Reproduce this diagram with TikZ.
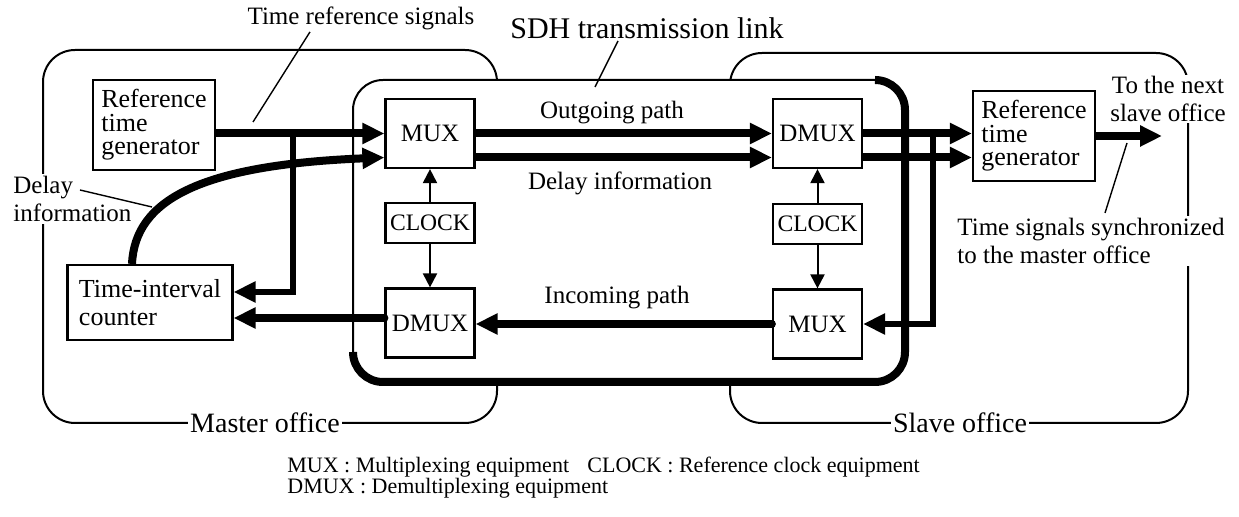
\documentclass[tikz,border=0pt]{standalone}
\usepackage{fontspec}
\setmainfont{Liberation Serif}
\usetikzlibrary{arrows.meta,calc}

\tikzset{
  office/.style={line width=1pt, rounded corners=16pt},
  box/.style={draw, line width=1.1pt, inner sep=0pt, align=left, fill=white},
  refbox/.style={box, minimum width=61pt, minimum height=45pt, font=\fontsize{13}{11.7}\selectfont},
  eqbox/.style={box, minimum width=44.5pt, minimum height=34.5pt, font=\fontsize{12.5}{12.5}\selectfont},
  clkbox/.style={box, minimum width=44.5pt, minimum height=20pt, font=\fontsize{11.8}{11.8}\selectfont},
  lbl/.style={font=\fontsize{12.5}{14}\selectfont, inner sep=1pt},
  officelbl/.style={font=\fontsize{14}{14}\selectfont, fill=white, inner sep=1pt},
  legend/.style={font=\fontsize{11}{10.5}\selectfont, inner sep=0pt, anchor=west, align=left},
  sig/.style={line width=4pt, -{Triangle[length=11pt,width=10pt]}},
  vline/.style={line width=3.2pt, line join=miter, -{Triangle[length=11pt,width=10pt]}},
  ctl/.style={line width=1pt, -{Triangle[length=7pt,width=7pt]}},
  leader/.style={line width=0.7pt}
}

\begin{document}
\begin{tikzpicture}[x=0.5pt,y=-0.5pt]
\useasboundingbox (0,0) rectangle (1239,517);

% office outlines
\draw[office] (43,50) rectangle (497,423);
\draw[office] (730,53) rectangle (1188,423);

% SDH transmission link: thin top/left, heavy right/bottom
\draw[line width=1pt, fill=white, rounded corners=15pt] (353,80) rectangle (905,382);
\draw[line width=4pt, rounded corners=15pt] (875,80) -- (905,80) -- (905,382) -- (353,382) -- (353,352);

% equipment blocks
\node[refbox] (refL) at (154,125) {Reference\\time\\generator};
\node[box, minimum width=82.5pt, minimum height=37.5pt, font=\fontsize{13}{14}\selectfont] (tic) at (150,302.5) {Time-interval\\counter};
\node[eqbox] (muxL) at (430,133.5) {MUX};
\node[clkbox] (clkL) at (430,223) {CLOCK};
\node[eqbox] (dmuxL) at (430,323) {DMUX};
\node[eqbox] (dmuxR) at (817.5,133.5) {DMUX};
\node[clkbox] (clkR) at (817.5,224) {CLOCK};
\node[eqbox] (muxR) at (817.5,324) {MUX};
\node[refbox] (refR) at (1034,136) {Reference\\time\\generator};

% labels
\node[lbl] (tref) at (361,18) {Time reference signals};
\node[font=\fontsize{15}{15}\selectfont, inner sep=1pt] (sdh) at (647,28) {SDH transmission link};
\node[lbl] (outp) at (612,113) {Outgoing path};
\node[lbl] (dinf) at (620,183) {Delay information};
\node[lbl] (inp) at (617,298) {Incoming path};
\node[lbl, align=left, fill=white, anchor=west] (dleft) at (11,199) {Delay\\information};
\node[lbl, align=center, fill=white, inner sep=0.5pt] (next) at (1168,99) {To the next\\slave office};
\node[lbl, align=left, fill=white, anchor=west] (tsync) at (955,241) {Time signals synchronized\\to the master office};
\node[officelbl] (master) at (265,423) {Master office};
\node[officelbl] (slave) at (960,423) {Slave office};

% legend
\node[legend] (leg1) at (287,477.5) {MUX : Multiplexing equipment\\DMUX : Demultiplexing equipment};
\node[legend, font=\fontsize{11}{11}\selectfont] (leg2) at (587,467) {CLOCK : Reference clock equipment};

% master side signals
\coordinate (jL) at (293,133.5);
\draw[sig] (refL.east |- muxL.west) -- (muxL.west);
\draw[vline] (jL) |- ([yshift=5.25pt]tic.east);
\draw[sig] ([xshift=-9pt]tic.north) .. controls (135,200) and (200,165) .. ([yshift=-12pt]muxL.west);
\draw[sig, line cap=round] ([yshift=2.5pt]dmuxL.west) -- ([yshift=2.5pt]dmuxL.west -| tic.east);

% transmission paths
\draw[sig] (muxL.east) -- (muxL.east -| dmuxR.west);
\draw[sig] ([yshift=-12pt]muxL.east) -- ([yshift=-12pt]muxL.east -| dmuxR.west);
\draw[sig, line cap=round] (muxR.west) -- (muxR.west -| dmuxL.east);

% slave side signals
\coordinate (jR) at (933,133.5);
\draw[sig] (dmuxR.east) -- (dmuxR.east -| refR.west);
\draw[sig] ([yshift=-12pt]dmuxR.east) -- ([yshift=-12pt]dmuxR.east -| refR.west);
\draw[vline] (jR) |- (muxR.east);
\coordinate (nxt) at (1162,136);
\draw[sig] (refR.east) -- (nxt);

% clock distribution
\draw[ctl] (clkL.north) -- (muxL.south);
\draw[ctl] (clkL.south) -- (dmuxL.north);
\draw[ctl] (clkR.north) -- (dmuxR.south);
\draw[ctl] (clkR.south) -- (muxR.north);

% leader lines
\coordinate (trefpt) at (253,122);
\draw[leader] ([xshift=-25.5pt]tref.south) -- (trefpt);
\coordinate (sdhpt) at (595,87);
\draw[leader] ([xshift=-14.5pt]sdh.south) -- (sdhpt);
\coordinate (dl1) at (80,190);
\coordinate (dl2) at (152,207);
\draw[leader] (dl1) -- (dl2);
\coordinate (ts1) at (1105,213);
\coordinate (ts2) at (1127,143);
\draw[leader] (ts1) -- (ts2);
\end{tikzpicture}
\end{document}
